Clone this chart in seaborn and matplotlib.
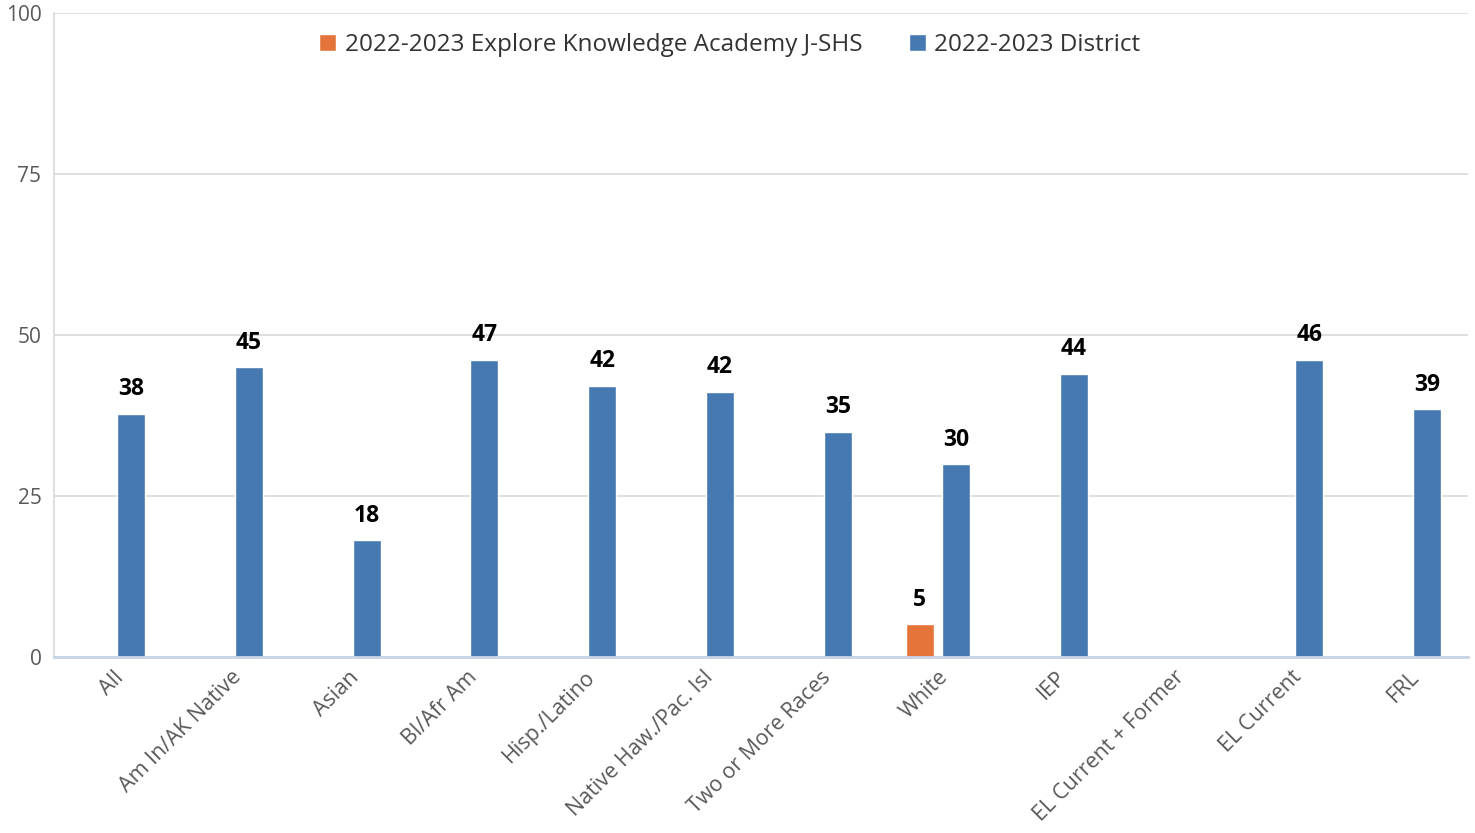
import numpy as np
import pandas as pd
import seaborn as sns
import matplotlib.pyplot as plt

categories = ["All", "Am In/AK Native", "Asian", "Bl/Afr Am", "Hisp./Latino",
              "Native Haw./Pac. Isl", "Two or More Races", "White", "IEP",
              "EL Current + Former", "EL Current", "FRL"]
series = ["2022-2023 Explore Knowledge Academy J-SHS", "2022-2023 District"]
school_vals = [np.nan, np.nan, np.nan, np.nan, np.nan, np.nan, np.nan, 5.1,
               np.nan, np.nan, np.nan, np.nan]
district_vals = [37.8, 45.0, 18.2, 46.2, 42.2, 41.2, 35.0, 30.0, 44.0,
                 np.nan, 46.2, 38.5]
school_labels = ["", "", "", "", "", "", "", "5", "", "", "", ""]
district_labels = ["38", "45", "18", "47", "42", "42", "35", "30", "44", "",
                   "46", "39"]

sns.set_style("white")
plt.rcParams['font.family'] = ['Open Sans', 'DejaVu Sans']

df = pd.DataFrame({
    "group": categories * 2,
    "series": [series[0]] * len(categories) + [series[1]] * len(categories),
    "value": school_vals + district_vals,
}).dropna()

fig, ax = plt.subplots(figsize=(14.75, 8.33), dpi=100)
fig.subplots_adjust(left=0.0366, right=0.9953, top=0.984, bottom=0.211)

sns.barplot(data=df, x="group", y="value", hue="series", order=categories,
            hue_order=series, palette=["#E5743A", "#4679B2"], width=0.61,
            gap=0.22, saturation=1, ax=ax, errorbar=None)

for cont, labs in zip(ax.containers, [school_labels, district_labels]):
    bars = [b for b in cont if b is not None]
    for b in bars:
        xc = b.get_x() + b.get_width() / 2
        ax.annotate(labs[int(round(xc))], (xc, b.get_height()),
                    xytext=(0, 9), textcoords="offset points",
                    ha="center", va="bottom", fontsize=16.5,
                    fontweight="bold", color="black")

ax.set_ylim(0, 100)
ax.set_yticks([0, 25, 50, 75, 100])
ax.set_xlim(-0.5, len(categories) - 0.5)
ax.yaxis.grid(True, color="#D9D9D9", linewidth=1.2)
ax.set_axisbelow(True)
ax.set_xlabel("")
ax.set_ylabel("")
ax.tick_params(axis="y", labelsize=15, labelcolor="#595959", length=0, pad=9)
ax.tick_params(axis="x", labelsize=15.5, labelcolor="#595959", length=0, pad=7)
plt.setp(ax.get_xticklabels(), rotation=45, ha="right", va="top",
         rotation_mode="anchor")

for s in ["top", "right"]:
    ax.spines[s].set_visible(False)
ax.spines["left"].set_color("#D9D9D9")
ax.spines["left"].set_linewidth(1.2)
ax.spines["bottom"].set_color("#C9D3E6")
ax.spines["bottom"].set_linewidth(2)

ax.legend(loc="upper center", bbox_to_anchor=(0.478, 1.003), ncol=2,
          frameon=False, fontsize=17.5, handlelength=0.7, handleheight=0.7,
          handletextpad=0.35, columnspacing=1.9, labelcolor="#333333")

fig.savefig("out.png", dpi=100)
